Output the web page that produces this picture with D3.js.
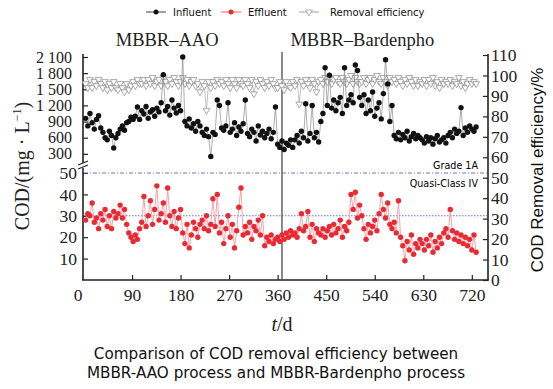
<!DOCTYPE html>
<head>
  <meta charset="utf-8">
  <script src="https://d3js.org/d3.v7.min.js"></script>
  <style>
    body { margin: 0; background: #fff; }
    svg { display: block; }
    .serif { font-family: "Liberation Serif", "Times New Roman", serif; }
    .sans { font-family: "DejaVu Sans", Verdana, sans-serif; }
  </style>
</head>

<body>
  <svg width="553" height="389"></svg>

  <script>
    // sampling days (every 4th day)
    const days = d3.range(4, 732, 4);

    // influent COD, mg/L
    const influent = [
      960, 820, 1050, 880, 760, 940, 1010, 780,
      700, 600, 560, 720, 640, 410, 600,
      680, 760, 820, 740, 880, 900, 980, 940,
      1000, 1170, 940,
      1100, 1040, 1180, 960, 1080, 1120, 1000, 1150,
      1080, 1250, 1770, 1100, 1180, 1020, 1300, 1150, 1060, 1200, 1100,
      2100, 900, 820, 950, 780, 860, 720, 900, 820,
      700, 640, 760, 620, 250, 700, 660,
      1300, 1200,
      780, 740, 820, 1250, 700, 760, 880, 640, 800, 720, 860, 1300,
      680, 620, 760, 700, 540, 820, 650, 720, 600, 680, 760, 580, 700, 1170,
      480, 420, 540, 380, 500, 460, 560, 420,
      560, 640, 500, 720, 600, 1230, 540, 680, 1200, 600, 700, 520,
      900, 1050, 1900,
      1200, 1760, 1150, 1300, 1100, 1250, 1350, 1050, 1900, 1200,
      1300, 1400, 1250, 1950, 1850, 1350,
      1200, 1400, 1050, 1300, 1100, 1450, 1000, 1150, 1250,
      950, 1420, 2050, 1600, 900, 1200,
      640, 580, 700, 560, 660, 600, 720, 540, 620, 680, 580, 640, 600,
      560, 500, 620, 540, 600, 480, 580, 640, 520, 560, 600, 500,
      640, 700, 600, 760, 680, 720, 1160, 640, 780, 700, 820, 760, 720, 800
    ];

    // effluent COD, mg/L
    const effluent = [
      28, 31, 30, 36, 27, 29, 24, 31,
      28, 33, 25, 30, 24, 32, 29,
      31, 35, 29, 33, 26, 22, 20, 18,
      21, 19, 24,
      27, 39, 25, 30, 37, 26, 33, 44,
      28, 31, 36, 27, 43, 30, 25, 32, 24, 29, 33,
      22, 17, 26, 15, 21, 27, 24, 20, 26,
      28, 24, 30, 23, 26, 38, 25,
      40, 22,
      27, 17, 24, 30, 20, 26, 15, 23, 34, 43, 21, 25,
      22, 27, 19, 25, 23, 28, 21, 30, 16, 20, 18, 21, 17, 19,
      20, 18, 21, 19, 22, 20, 23, 21,
      22, 20, 24, 31, 23, 25, 32, 20, 26, 18, 24, 22,
      21, 24, 20,
      23, 25, 21, 26, 22, 24, 28, 20, 25, 23,
      27, 40, 33, 41, 29, 35,
      30, 24, 19, 26, 22, 25, 28, 23, 31,
      40, 33, 29, 36, 26, 24,
      27, 22, 37, 20, 16, 9, 18, 14, 21, 12, 17, 15, 19,
      17, 14, 19, 16, 21, 13, 18, 15, 20, 17, 22, 24,
      20, 33, 23, 19, 22, 18, 21, 17, 20, 16, 19, 14, 21, 13
    ];

    // COD removal efficiency, %
    const removal = [
      96, 94, 98, 94, 97, 95, 98, 96,
      94, 97, 93, 96, 94, 97, 94,
      93, 96, 94, 92, 96, 93, 95, 97,
      95, 98, 96,
      96, 98, 95, 98, 96, 99, 95, 97,
      98, 95, 99, 97, 95, 98, 96, 99, 97, 95, 97,
      99, 96, 98, 95, 97, 98, 95, 96, 92,
      97, 95, 83, 97, 94, 97, 95,
      98, 96,
      97, 95, 98, 96, 94, 98, 96, 94, 98, 96, 95, 98,
      96, 94, 98, 91, 97, 95, 98, 96, 94, 97, 95, 98, 96, 94,
      94, 97, 95, 93, 97, 95, 94, 97,
      95, 98, 86, 97, 95, 98, 96, 94, 98, 96, 92, 97,
      98, 96, 99,
      97, 99, 96, 98, 99, 97, 96, 99, 97, 96,
      98, 100, 96, 99, 97, 96,
      97, 99, 96, 98, 99, 96, 98, 100, 97,
      96, 99, 97, 95, 99, 97,
      98, 96, 99, 97, 95, 98, 96, 99, 97, 95, 98, 95, 97,
      96, 98, 95, 98, 96, 99, 95, 97, 94, 98, 96, 97,
      96, 98, 95, 97, 96, 99, 95, 97, 94, 96, 98, 96, 97, 96
    ];

    const xTicks = [0, 90, 180, 270, 360, 450, 540, 630, 720];
    const upperTicks = [300, 600, 900, 1200, 1500, 1800, 2100];
    const lowerTicks = [10, 20, 30, 40, 50];
    const rightTicks = [0, 10, 20, 30, 40, 50, 60, 70, 80, 90, 100, 110];
    const standards = [
      { value: 50, label: 'Grade 1A', dash: '4,2,1,2' },
      { value: 30, label: 'Quasi-Class IV', dash: '1.5,1.5' }
    ];
    const processes = [
      { name: 'MBBR–AAO', day: 155 },
      { name: 'MBBR–Bardenpho', day: 517 }
    ];
    const switchDay = 368;

    const svg = d3.select('svg');

    // scales (broken left axis: upper for influent, lower for effluent)
    const x = d3.scaleLinear().domain([0, 750]).range([83.5, 488]);
    const yUp = d3.scaleLinear().domain([0, 2100]).range([170, 57]);
    const yLow = d3.scaleLinear().domain([0, 50]).range([280, 173]);
    const yR = d3.scaleLinear().domain([0, 110]).range([280, 55]);

    const n = Math.min(days.length, influent.length, effluent.length, removal.length);
    const rows = d3.range(n).map(i => ({
      t: days[i], inf: influent[i], eff: effluent[i], rem: removal[i]
    }));

    const spaceFmt = v => d3.format(',')(v).replace(/,/g, ' ');

    // axes
    const tickFont = g => g.selectAll('text')
      .attr('class', 'serif').attr('font-size', 17.5).attr('fill', '#222');

    svg.append('g')
      .attr('transform', 'translate(0,280)')
      .call(d3.axisBottom(x).tickValues(xTicks).tickSize(-5).tickSizeOuter(0).tickPadding(9))
      .call(g => g.select('.domain').remove())
      .call(tickFont)
      .call(g => g.selectAll('.tick').filter(d => d === 0).select('text').attr('x', -6))
      .call(g => g.selectAll('.tick').filter(d => d === 0).select('line').remove());

    // upper labels are packed tightly, as in the source figure
    svg.append('g')
      .attr('transform', 'translate(83,0)')
      .call(d3.axisLeft(yUp).tickValues(upperTicks).tickFormat(spaceFmt)
        .tickSize(-5).tickSizeOuter(0).tickPadding(11))
      .call(g => g.select('.domain').remove())
      .call(tickFont)
      .call(g => g.selectAll('text').attr('font-size', 16));

    svg.append('g')
      .attr('transform', 'translate(83,0)')
      .call(d3.axisLeft(yLow).tickValues(lowerTicks).tickSize(-5).tickSizeOuter(0).tickPadding(6))
      .call(g => g.select('.domain').remove())
      .call(tickFont);

    svg.append('g')
      .attr('transform', 'translate(488,0)')
      .call(d3.axisRight(yR).tickValues(rightTicks).tickSize(-5).tickSizeOuter(0).tickPadding(3))
      .call(g => g.select('.domain').remove())
      .call(tickFont);

    svg.selectAll('.tick line').attr('stroke', '#222').attr('stroke-width', 1.2);

    // frame lines
    const frame = svg.append('g').attr('stroke', '#222').attr('stroke-width', 1.6).attr('fill', 'none');
    frame.append('line').attr('x1', 83).attr('x2', 83).attr('y1', 54).attr('y2', 163);
    frame.append('line').attr('x1', 83).attr('x2', 83).attr('y1', 168).attr('y2', 280);
    frame.append('line').attr('x1', 488).attr('x2', 488).attr('y1', 54).attr('y2', 280);
    frame.append('line').attr('x1', 82).attr('x2', 489).attr('y1', 280).attr('y2', 280);
    // break marks
    frame.append('path').attr('stroke-width', 1.1)
      .attr('d', 'M78,165 L88,161 M78,169 L88,165');

    // standard lines
    standards.forEach(s => {
      svg.append('line')
        .attr('x1', 84).attr('x2', 487)
        .attr('y1', yLow(s.value)).attr('y2', yLow(s.value))
        .attr('stroke', '#6b74cf').attr('stroke-width', 1.1)
        .attr('stroke-dasharray', s.dash);
    });
    svg.append('text').attr('class', 'sans').attr('font-size', 9.6)
      .attr('text-anchor', 'end').attr('x', 478).attr('y', yLow(50) - 4)
      .text(standards[0].label);
    svg.append('text').attr('class', 'sans').attr('font-size', 9.6)
      .attr('text-anchor', 'end').attr('x', 478).attr('y', yLow(50) + 14)
      .text(standards[1].label);

    // divider between processes
    svg.append('line')
      .attr('x1', x(switchDay)).attr('x2', x(switchDay))
      .attr('y1', 52).attr('y2', 280)
      .attr('stroke', '#555').attr('stroke-width', 1.4);

    // removal efficiency
    svg.append('path').datum(rows)
      .attr('fill', 'none').attr('stroke', '#b0b0b0').attr('stroke-width', 0.8)
      .attr('d', d3.line().x(d => x(d.t)).y(d => yR(d.rem)));
    const tri = d3.symbol().type(d3.symbolTriangle).size(20);
    svg.append('g').selectAll('path').data(rows).join('path')
      .attr('d', tri)
      .attr('transform', d => `translate(${x(d.t)},${yR(d.rem)}) rotate(180)`)
      .attr('fill', '#fff').attr('stroke', '#949494').attr('stroke-width', 0.8);

    // influent
    svg.append('path').datum(rows)
      .attr('fill', 'none').attr('stroke', '#8a8a8a').attr('stroke-width', 0.7)
      .attr('d', d3.line().x(d => x(d.t)).y(d => yUp(d.inf)));
    svg.append('g').selectAll('circle').data(rows).join('circle')
      .attr('cx', d => x(d.t)).attr('cy', d => yUp(d.inf)).attr('r', 2.7)
      .attr('fill', '#111');

    // effluent
    svg.append('path').datum(rows)
      .attr('fill', 'none').attr('stroke', '#f29aa3').attr('stroke-width', 0.9)
      .attr('d', d3.line().x(d => x(d.t)).y(d => yLow(d.eff)));
    svg.append('g').selectAll('circle').data(rows).join('circle')
      .attr('cx', d => x(d.t)).attr('cy', d => yLow(d.eff)).attr('r', 2.7)
      .attr('fill', '#ea2a33');

    // process labels
    svg.selectAll('.proc').data(processes).join('text')
      .attr('class', 'serif proc').attr('font-size', 18.5).attr('fill', '#222')
      .attr('text-anchor', 'middle')
      .attr('x', d => x(d.day)).attr('y', 46)
      .text(d => d.name);

    // axis titles
    const lt = svg.append('text').attr('class', 'serif').attr('font-size', 20).attr('fill', '#222')
      .attr('text-anchor', 'middle')
      .attr('transform', 'translate(29,166) rotate(-90)');
    lt.append('tspan').text('COD/(mg · L');
    lt.append('tspan').attr('font-size', 12).attr('dy', -8).text('−1');
    lt.append('tspan').attr('dy', 8).text(')');

    svg.append('text')
      .attr('font-family', '"Liberation Sans", Arial, sans-serif')
      .attr('font-size', 17).attr('fill', '#111')
      .attr('text-anchor', 'middle')
      .attr('transform', 'translate(543,170) rotate(-90)')
      .text('COD Removal efficiency/%');

    const xt = svg.append('text').attr('class', 'serif').attr('font-size', 20).attr('fill', '#222')
      .attr('text-anchor', 'middle').attr('x', 282).attr('y', 331);
    xt.append('tspan').attr('font-style', 'italic').text('t');
    xt.append('tspan').text('/d');

    // legend
    const legendItems = [
      { label: 'Influent', x: 146, line: '#555', kind: 'dot', color: '#111' },
      { label: 'Effluent', x: 221, line: '#f06a75', kind: 'dot', color: '#ea2a33' },
      { label: 'Removal efficiency', x: 299, line: '#aaa', kind: 'tri', color: '#999' }
    ];
    const lg = svg.append('g').selectAll('g').data(legendItems).join('g')
      .attr('transform', d => `translate(${d.x},12)`);
    lg.append('line').attr('x1', 0).attr('x2', 20).attr('stroke', d => d.line).attr('stroke-width', 1.1);
    lg.filter(d => d.kind === 'dot').append('circle').attr('cx', 10).attr('r', 2.5).attr('fill', d => d.color);
    lg.filter(d => d.kind === 'tri').append('path')
      .attr('d', tri).attr('transform', 'translate(10,0) rotate(180)')
      .attr('fill', '#fff').attr('stroke', '#999').attr('stroke-width', 0.8);
    lg.append('text').attr('class', 'sans').attr('font-size', 10).attr('fill', '#111')
      .attr('x', d => d.kind === 'tri' ? 31 : 27).attr('y', 3.5)
      .text(d => d.label);

    // caption
    svg.append('text').attr('class', 'sans').attr('font-size', 15.2).attr('fill', '#111')
      .attr('text-anchor', 'middle').attr('x', 276).attr('y', 359)
      .text('Comparison of COD removal efficiency between');
    svg.append('text').attr('class', 'sans').attr('font-size', 15.2).attr('fill', '#111')
      .attr('text-anchor', 'middle').attr('x', 276).attr('y', 378)
      .text('MBBR-AAO process and MBBR-Bardenpho process');
  </script>
</body>
